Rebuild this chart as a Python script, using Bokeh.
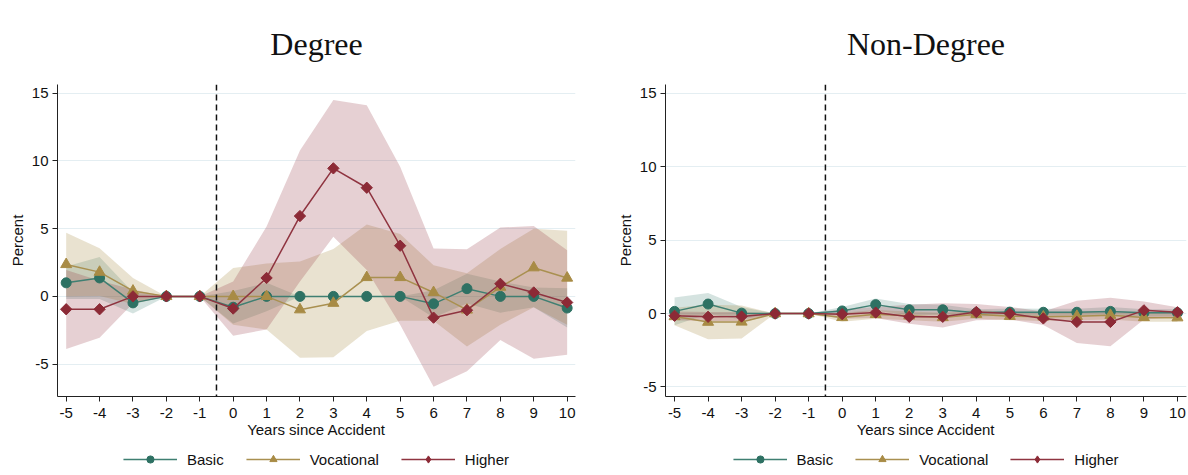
#!/usr/bin/env python3

import math

from bokeh.embed import file_html
from bokeh.layouts import column, row
from bokeh.models import FixedTicker, Legend, LegendItem, Range1d, Span
from bokeh.plotting import figure
from bokeh.resources import INLINE

years = list(range(-5, 11))
xTicks = list(range(-5, 11))
yTicks = [-5, 0, 5, 10, 15]

# Degree
degBasic = [1.0, 1.36, -0.48, 0, 0, -0.8, 0, 0, 0, 0, 0, -0.55, 0.57, 0, 0, -0.86]
degBasicLo = [-0.2, -0.2, -1.26, 0, 0, -2.0, -1.1, 0, 0, 0, 0, -1.55, -0.53, -1.2, -0.8, -2.3]
degBasicHi = [2.2, 2.9, 0.3, 0, 0, 0.4, 1.0, 0, 0, 0, 0, 0.45, 1.67, 1.1, 0.65, 0.6]

degVoc = [2.36, 1.79, 0.4, 0, 0, 0.0, 0.0, -0.98, -0.5, 1.4, 1.4, 0.29, -1.0, 0.69, 2.12, 1.36]
degVocLo = [0.0, 0.03, -0.56, 0, 0, -2.1, -2.45, -4.53, -4.5, -2.55, -1.8, -1.8, -3.7, -2.1, -0.8, -2.1]
degVocHi = [4.7, 3.55, 1.36, 0, 0, 2.1, 2.43, 2.57, 3.5, 5.3, 4.6, 2.3, 1.7, 3.5, 5.0, 4.85]

degHigh = [-0.95, -0.95, 0, 0, 0, -0.9, 1.36, 5.93, 9.45, 8.02, 3.74, -1.57, -1.02, 0.93, 0.29, -0.45]
degHighLo = [-3.88, -3.05, -0.5, 0, 0, -2.9, -2.44, 1.1, 4.4, 1.94, -2.1, -6.67, -5.52, -3.22, -4.6, -4.3]
degHighHi = [1.95, 1.15, 0.5, 0, 0, 1.1, 5.16, 10.76, 14.5, 14.1, 9.57, 3.53, 3.48, 5.08, 5.2, 3.4]

# Non-Degree
nonBasic = [0.15, 0.65, 0.03, 0, 0, 0.18, 0.61, 0.26, 0.26, 0.05, 0.1, 0.09, 0.09, 0.15, 0.05, 0.05]
nonBasicLo = [-0.8, -0.03, -0.4, 0, 0, -0.1, 0.19, -0.1, -0.1, -0.2, -0.15, -0.15, -0.15, -0.15, -0.2, -0.2]
nonBasicHi = [1.1, 1.4, 0.45, 0, 0, 0.45, 1.03, 0.66, 0.6, 0.3, 0.35, 0.33, 0.33, 0.45, 0.3, 0.3]

nonVoc = [-0.2, -0.58, -0.57, 0, 0, -0.26, -0.05, -0.15, -0.26, -0.04, -0.18, -0.22, -0.18, -0.11, -0.26, -0.28]
nonVocLo = [-0.8, -1.75, -1.7, 0, 0, -0.55, -0.35, -0.45, -0.55, -0.35, -0.45, -0.5, -0.45, -0.4, -0.55, -0.55]
nonVocHi = [0.4, 0.6, 0.55, 0, 0, 0.05, 0.25, 0.15, 0.05, 0.25, 0.1, 0.05, 0.1, 0.2, 0.05, 0.0]

nonHigh = [-0.15, -0.22, -0.2, 0, 0, -0.04, 0.07, -0.22, -0.22, 0.11, 0.0, -0.33, -0.57, -0.57, 0.22, 0.09]
nonHighLo = [-0.45, -0.5, -0.5, 0, 0, -0.35, -0.3, -0.7, -0.94, -0.45, -0.4, -0.77, -2.0, -2.22, -0.4, -0.25]
nonHighHi = [0.15, 0.1, 0.1, 0, 0, 0.3, 0.45, 0.6, 0.7, 0.66, 0.45, 0.15, 0.88, 1.08, 0.83, 0.44]

tealDot = "#2e7163"
tealLine = "#3f7f72"
tanDot = "#a88b45"
tanLine = "#a99050"
redDot = "#8c2a36"
redLine = "#8f3440"

sansFont = "Liberation Sans"
textSize = "15px"


def drawSeries(p, est, dot, line, marker, size, inLegend=False):
	rLine = p.line(years, est, line_color=line, line_width=1.5)
	if marker == "square" and inLegend:
		# the legend ignores marker angle, so use a diamond there
		rDots = p.scatter(years, est, marker="diamond", size=size + 4, fill_color=dot, line_color=dot)
	elif marker == "square":
		rDots = p.scatter(years, est, marker=marker, size=size, angle=math.pi / 4,
			fill_color=dot, line_color=dot)
	else:
		rDots = p.scatter(years, est, marker=marker, size=size, fill_color=dot, line_color=dot)
	return rLine, rDots


def makePanel(title, series, yRange, xRange, borderLeft, borderRight):
	p = figure(width=594, height=443, x_range=Range1d(*xRange), y_range=Range1d(*yRange),
		output_backend="svg", toolbar_location=None, title=title,
		min_border_left=borderLeft, min_border_right=borderRight,
		min_border_top=73, min_border_bottom=47)
	p.outline_line_color = None

	p.title.align = "center"
	p.title.text_font = "Liberation Serif"
	p.title.text_font_style = "normal"
	p.title.text_font_size = "32px"
	p.title.text_color = "#111111"
	p.title.standoff = 46

	p.xaxis.ticker = FixedTicker(ticks=xTicks)
	p.yaxis.ticker = FixedTicker(ticks=yTicks)
	p.xaxis.major_label_overrides = {t: str(t) for t in xTicks}
	p.yaxis.major_label_overrides = {t: str(t) for t in yTicks}
	p.xaxis.axis_label = "Years since Accident"
	p.yaxis.axis_label = "Percent"
	for ax in [p.xaxis, p.yaxis]:
		ax.axis_label_text_font = sansFont
		ax.axis_label_text_font_style = "normal"
		ax.axis_label_text_font_size = textSize
		ax.axis_label_text_color = "#111111"
		ax.major_label_text_font = sansFont
		ax.major_label_text_font_size = textSize
		ax.major_label_text_color = "#111111"
		ax.axis_line_color = "#222222"
		ax.major_tick_line_color = "#222222"
		ax.major_tick_out = 5
		ax.major_tick_in = 0
		ax.minor_tick_line_color = None
		ax.major_label_standoff = 6
		ax.axis_label_standoff = 0
	p.yaxis.major_label_standoff = 4
	p.yaxis.axis_label_standoff = 3

	p.xgrid.visible = False
	p.ygrid.ticker = FixedTicker(ticks=yTicks)
	p.ygrid.grid_line_color = "#e4eef2"

	for name, est, lo, hi, dot, line, marker, size, alpha in series:
		p.varea(x=years, y1=lo, y2=hi, fill_color=dot, fill_alpha=alpha)
	for name, est, lo, hi, dot, line, marker, size, alpha in series:
		drawSeries(p, est, dot, line, marker, size)

	p.add_layout(Span(location=-0.5, dimension="height", line_color="#111111",
		line_dash="6 4", line_width=1.5))
	return p


def makeLegend(series, borderLeft):
	# legend strip under a panel; its own glyphs sit outside the visible range
	g = figure(width=594, height=32, x_range=Range1d(100, 101), y_range=Range1d(100, 101),
		output_backend="svg", toolbar_location=None,
		min_border_left=borderLeft, min_border_right=0, min_border_top=0, min_border_bottom=0)
	g.xaxis.visible = False
	g.yaxis.visible = False
	g.xgrid.visible = False
	g.ygrid.visible = False
	g.outline_line_color = None

	items = []
	for name, est, lo, hi, dot, line, marker, size, alpha in series:
		rLine, rDots = drawSeries(g, est, dot, line, marker, size, inLegend=True)
		items.append(LegendItem(label=name, renderers=[rLine, rDots]))

	legend = Legend(items=items, orientation="horizontal", location="center",
		border_line_alpha=0, background_fill_alpha=0,
		label_text_font=sansFont, label_text_font_size=textSize, label_text_color="#111111",
		glyph_width=54, glyph_height=18, spacing=22, label_standoff=10,
		padding=0, margin=0)
	g.add_layout(legend)
	return g


def series(basic, basicLo, basicHi, voc, vocLo, vocHi, high, highLo, highHi):
	return [
		("Basic", basic, basicLo, basicHi, tealDot, tealLine, "circle", 10, 0.2),
		("Vocational", voc, vocLo, vocHi, tanDot, tanLine, "triangle", 11, 0.25),
		("Higher", high, highLo, highHi, redDot, redLine, "square", 8, 0.22),
	]


degSeries = series(degBasic, degBasicLo, degBasicHi, degVoc, degVocLo, degVocHi, degHigh, degHighLo, degHighHi)
nonSeries = series(nonBasic, nonBasicLo, nonBasicHi, nonVoc, nonVocLo, nonVocHi, nonHigh, nonHighLo, nonHighHi)

left = makePanel("Degree", degSeries, (-7.39, 15.64), (-5.26, 10.25), 57, 19)
right = makePanel("Non-Degree", nonSeries, (-5.65, 15.61), (-5.27, 10.27), 71, 2)

page = row(column(left, makeLegend(degSeries, 44)), column(right, makeLegend(nonSeries, 68)))

open("out.html", "w").write(file_html(page, INLINE))
